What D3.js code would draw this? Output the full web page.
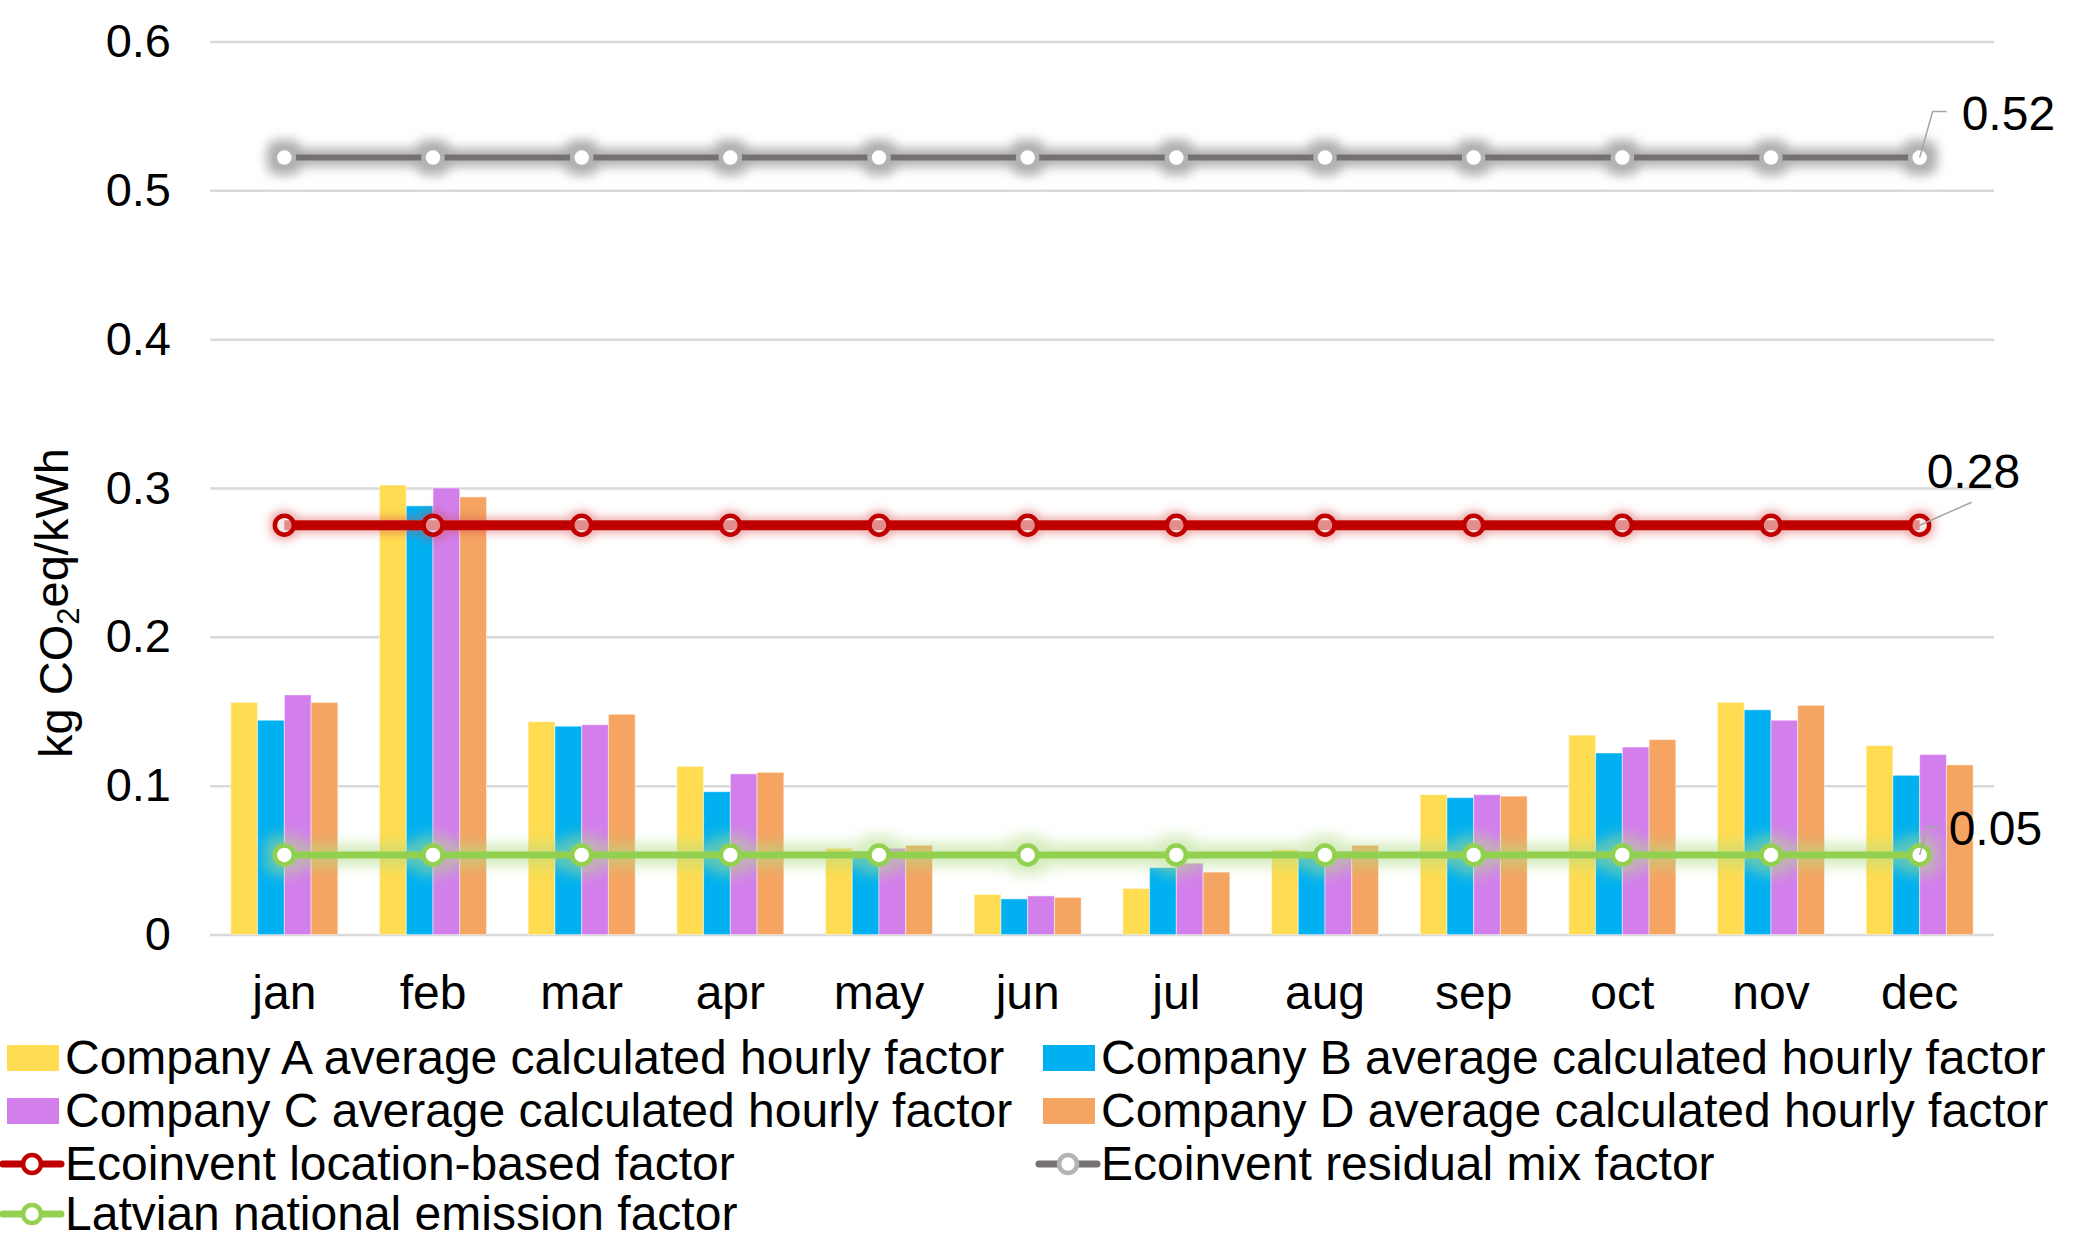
<!DOCTYPE html>
<html>
<head>
<meta charset="utf-8">
<script src="https://cdn.jsdelivr.net/npm/d3@7"></script>
<style>
  body { margin: 0; background: #fff; }
  svg { display: block; font-family: "Liberation Sans", Arial, sans-serif; }
</style>
</head>
<body>
<svg id="chart" width="2096" height="1241"></svg>
<script>
const months = ["jan", "feb", "mar", "apr", "may", "jun", "jul", "aug", "sep", "oct", "nov", "dec"]

const companyA = [0.156, 0.302, 0.143, 0.113, 0.058, 0.027, 0.031, 0.057, 0.094, 0.134, 0.156, 0.127]
const companyB = [0.144, 0.288, 0.140, 0.096, 0.056, 0.024, 0.045, 0.054, 0.092, 0.122, 0.151, 0.107]
const companyC = [0.161, 0.300, 0.141, 0.108, 0.058, 0.026, 0.048, 0.056, 0.094, 0.126, 0.144, 0.121]
const companyD = [0.156, 0.294, 0.148, 0.109, 0.060, 0.025, 0.042, 0.060, 0.093, 0.131, 0.154, 0.114]

const locationBased = [0.275, 0.275, 0.275, 0.275, 0.275, 0.275, 0.275, 0.275, 0.275, 0.275, 0.275, 0.275]
const residualMix = [0.522, 0.522, 0.522, 0.522, 0.522, 0.522, 0.522, 0.522, 0.522, 0.522, 0.522, 0.522]
const nationalFactor = [0.0535, 0.0535, 0.0535, 0.0535, 0.0535, 0.0535, 0.0535, 0.0535, 0.0535, 0.0535, 0.0535, 0.0535]

const yTicks = [0, 0.1, 0.2, 0.3, 0.4, 0.5, 0.6]

const barSeries = [
  {name: "Company A average calculated hourly factor", values: companyA, color: "#ffdc52"},
  {name: "Company B average calculated hourly factor", values: companyB, color: "#00b0f0"},
  {name: "Company C average calculated hourly factor", values: companyC, color: "#d27fec"},
  {name: "Company D average calculated hourly factor", values: companyD, color: "#f5a462"}
]

const lineSeries = [
  {name: "Ecoinvent residual mix factor", values: residualMix, color: "#767171", marker: "#b3b3b3",
    fill: "#fff", width: 6, glow: "glow-gray", label: {dx: 42, dy: -28, leader: [[13, -46], [27, -46]]}},
  {name: "Ecoinvent location-based factor", values: locationBased, color: "#c00000", marker: "#c00000",
    fill: "rgba(255,255,255,0.55)", width: 10, glow: "glow-red", label: {dx: 7, dy: -37, leader: [[52, -23]]}},
  {name: "Latvian national emission factor", values: nationalFactor, color: "#92d050", marker: "#92d050",
    fill: "#fff", width: 7, glow: "glow-green", label: {dx: 29, dy: -10, leader: [[8, -28], [20, -28]]}}
]

const margin = {top: 41.4, left: 210, right: 102, bottom: 306.4}

const svg = d3.select("#chart")
const width = +svg.attr("width")
const height = +svg.attr("height")

// glow filters, Excel style
const defs = svg.append("defs")
function addGlow(id, color, opacity, dilate, blur) {
  const f = defs.append("filter").attr("id", id)
    .attr("filterUnits", "userSpaceOnUse")
    .attr("x", 0).attr("y", 0).attr("width", width).attr("height", height)
  f.append("feMorphology").attr("in", "SourceAlpha").attr("operator", "dilate").attr("radius", dilate).attr("result", "d")
  f.append("feGaussianBlur").attr("in", "d").attr("stdDeviation", blur).attr("result", "b")
  f.append("feFlood").attr("flood-color", color).attr("flood-opacity", opacity)
  f.append("feComposite").attr("in2", "b").attr("operator", "in").attr("result", "g")
  const m = f.append("feMerge")
  m.append("feMergeNode").attr("in", "g")
  m.append("feMergeNode").attr("in", "SourceGraphic")
}
addGlow("glow-gray", "#9a9a9a", 0.8, 6, 5.5)
addGlow("glow-red", "#d84a4a", 0.45, 3, 4)
addGlow("glow-green", "#b2dc86", 0.55, 8, 7)

const xScale = d3.scaleBand()
  .domain(months)
  .range([margin.left, width - margin.right])
  .paddingInner(0.28)
  .paddingOuter(0.14)

const xSub = d3.scaleBand()
  .domain(barSeries.map(s => s.name))
  .range([0, xScale.bandwidth()])

const yScale = d3.scaleLinear()
  .domain([0, 0.6])
  .range([height - margin.bottom, margin.top])

// gridlines + y labels
const yAxis = d3.axisLeft(yScale)
  .tickValues(yTicks)
  .tickFormat(d3.format("~f"))
  .tickSize(-(width - margin.left - margin.right))
  .tickPadding(39)

svg.append("g")
  .attr("transform", `translate(${margin.left},0)`)
  .call(yAxis)
  .call(g => g.select(".domain").remove())
  .call(g => g.selectAll(".tick line").attr("stroke", "#d9d9d9").attr("stroke-width", 2.5))
  .call(g => g.selectAll(".tick text").attr("fill", "#000").attr("font-size", 47)
    .attr("font-family", "Liberation Sans, Arial, sans-serif"))

// month labels
const xAxis = d3.axisBottom(xScale).tickSize(0).tickPadding(40)
svg.append("g")
  .attr("transform", `translate(0,${yScale(0)})`)
  .call(xAxis)
  .call(g => g.select(".domain").remove())
  .call(g => g.selectAll(".tick text").attr("fill", "#000").attr("font-size", 48)
    .attr("font-family", "Liberation Sans, Arial, sans-serif"))

// bars
svg.append("g").attr("class", "bars")
  .selectAll("g")
  .data(barSeries)
  .join("g")
  .attr("fill", s => s.color)
  .selectAll("rect")
  .data(s => s.values.map((v, i) => ({name: s.name, month: months[i], value: v})))
  .join("rect")
  .attr("x", d => xScale(d.month) + xSub(d.name))
  .attr("y", d => yScale(d.value))
  .attr("width", xSub.bandwidth())
  .attr("height", d => yScale(0) - yScale(d.value))
  .attr("stroke", "#fff")
  .attr("stroke-opacity", 0.5)
  .attr("stroke-width", 1)

// lines with markers
const cx = (m) => xScale(m) + xScale.bandwidth() / 2
const line = d3.line().x((d, i) => cx(months[i])).y(d => yScale(d))

lineSeries.forEach(s => {
  const g = svg.append("g").attr("filter", `url(#${s.glow})`)
  g.append("path")
    .datum(s.values)
    .attr("fill", "none")
    .attr("stroke", s.color)
    .attr("stroke-width", s.width)
    .attr("d", line)
  g.selectAll("circle")
    .data(s.values)
    .join("circle")
    .attr("cx", (d, i) => cx(months[i]))
    .attr("cy", d => yScale(d))
    .attr("r", 9.5)
    .attr("fill", s.fill)
    .attr("stroke", s.marker)
    .attr("stroke-width", 4.5)
})

// data labels on the last point
lineSeries.forEach(s => {
  const last = s.values.length - 1
  const px = cx(months[last])
  const py = yScale(s.values[last])
  const pts = [[px, py]].concat(s.label.leader.map(p => [px + p[0], py + p[1]]))
  svg.append("polyline")
    .attr("points", pts.map(p => p.join(",")).join(" "))
    .attr("fill", "none")
    .attr("stroke", "#a6a6a6")
    .attr("stroke-width", 1.5)
  svg.append("text")
    .attr("x", px + s.label.dx)
    .attr("y", py + s.label.dy)
    .attr("font-size", 48)
    .text(d3.format(".2f")(s.values[last]))
})

// y title
const title = svg.append("text")
  .attr("transform", `translate(72,603) rotate(-90)`)
  .attr("text-anchor", "middle")
  .attr("font-size", 47)
title.append("tspan").text("kg CO")
title.append("tspan").attr("dy", "0.22em").attr("font-size", 31).text("2")
title.append("tspan").attr("dy", "-0.22em").text("eq/kWh")

// legend
const legendItems = [
  {col: 0, row: 0, type: "bar", s: barSeries[0]},
  {col: 1, row: 0, type: "bar", s: barSeries[1]},
  {col: 0, row: 1, type: "bar", s: barSeries[2]},
  {col: 1, row: 1, type: "bar", s: barSeries[3]},
  {col: 0, row: 2, type: "line", s: lineSeries[1]},
  {col: 1, row: 2, type: "line", s: lineSeries[0]},
  {col: 0, row: 3, type: "line", s: lineSeries[2]}
]
const colX = [7, 1043]
const rowY = [1074, 1127, 1180, 1230]

const legend = svg.append("g").attr("class", "legend")
legendItems.forEach(it => {
  const x = colX[it.col]
  const y = rowY[it.row]
  if (it.type === "bar") {
    legend.append("rect")
      .attr("x", x).attr("y", y - 29)
      .attr("width", 52).attr("height", 26)
      .attr("fill", it.s.color)
  } else {
    legend.append("line")
      .attr("x1", x - 4).attr("x2", x + 54)
      .attr("y1", y - 16).attr("y2", y - 16)
      .attr("stroke", it.s.color)
      .attr("stroke-width", 7)
      .attr("stroke-linecap", "round")
    legend.append("circle")
      .attr("cx", x + 25).attr("cy", y - 16).attr("r", 9)
      .attr("fill", "#fff")
      .attr("stroke", it.s.marker)
      .attr("stroke-width", 4.5)
  }
  legend.append("text")
    .attr("x", x + 58).attr("y", y)
    .attr("font-size", 48)
    .text(it.s.name)
})
</script>
</body>
</html>
